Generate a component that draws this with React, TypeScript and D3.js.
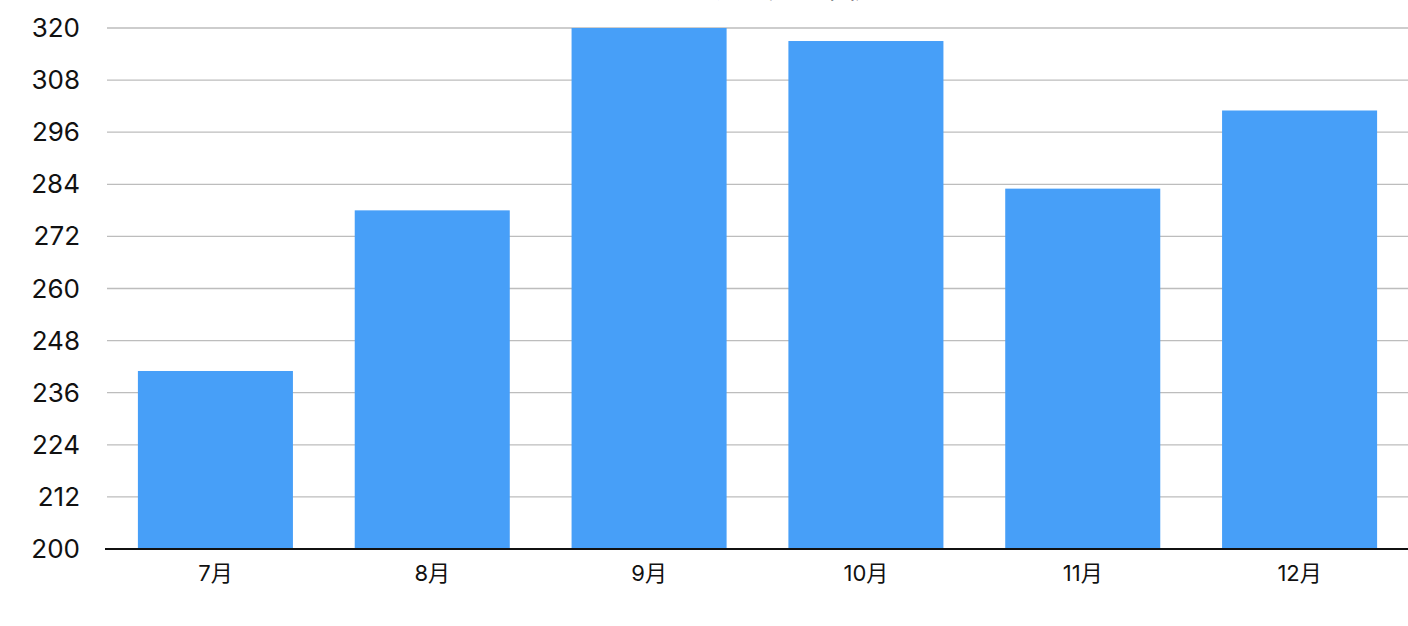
import React, { useRef, useEffect } from 'react';
import * as d3 from 'd3';

const title = '月別売上推移';
const months = ['7月', '8月', '9月', '10月', '11月', '12月'];
const values = [241, 278, 320, 317, 283, 301];
const yTicks = [200, 212, 224, 236, 248, 260, 272, 284, 296, 308, 320];

const W = 1408;
const H = 626;
const FONT = 'Inter, "Noto Sans CJK JP", sans-serif';

const App = () => {
  const ref = useRef<SVGSVGElement>(null);

  useEffect(() => {
    const svg = d3.select(ref.current).attr('width', W).attr('height', H);
    svg.selectAll('*').remove();

    const left = 107;
    const right = W;
    const top = 28;
    const bottom = 549;

    const x = d3.scaleBand<string>()
      .domain(months)
      .range([left, right])
      .paddingInner(0.285)
      .paddingOuter(0.1425);

    const y = d3.scaleLinear().domain([200, 320]).range([bottom, top]);

    // title sits mostly above the visible area, as in the source
    svg.append('text')
      .attr('x', 794)
      .attr('y', -2)
      .attr('text-anchor', 'middle')
      .style('font-family', FONT)
      .style('font-size', '26px')
      .style('fill', '#111')
      .text(title);

    // grid lines
    svg.append('g')
      .selectAll('line')
      .data(yTicks.filter(d => d !== 200))
      .enter().append('line')
      .attr('x1', left)
      .attr('x2', right)
      .attr('y1', d => y(d))
      .attr('y2', d => y(d))
      .attr('stroke', '#bdbdbd')
      .attr('stroke-width', 1.3);

    // y labels
    svg.append('g')
      .selectAll('text')
      .data(yTicks)
      .enter().append('text')
      .attr('x', 80)
      .attr('y', d => y(d) + 9)
      .attr('text-anchor', 'end')
      .style('font-family', FONT)
      .style('font-size', '26px')
      .style('fill', '#111')
      .text(d => d);

    // bars
    svg.append('g')
      .selectAll('rect')
      .data(values)
      .enter().append('rect')
      .attr('x', (d, i) => x(months[i]) as number)
      .attr('y', d => y(d))
      .attr('width', x.bandwidth())
      .attr('height', d => bottom - y(d))
      .style('fill', '#479ff8');

    // baseline
    svg.append('line')
      .attr('x1', 105)
      .attr('x2', right)
      .attr('y1', bottom)
      .attr('y2', bottom)
      .attr('stroke', '#111')
      .attr('stroke-width', 2);

    // x labels
    svg.append('g')
      .selectAll('text')
      .data(months)
      .enter().append('text')
      .attr('x', d => (x(d) as number) + x.bandwidth() / 2)
      .attr('y', 581)
      .attr('text-anchor', 'middle')
      .style('font-family', FONT)
      .style('font-size', '22px')
      .style('fill', '#111')
      .text(d => d);
  }, []);

  return (
    <svg ref={ref} style={{ position: 'absolute', left: 0, top: 0, display: 'block' }}></svg>
  );
};

export default App;
